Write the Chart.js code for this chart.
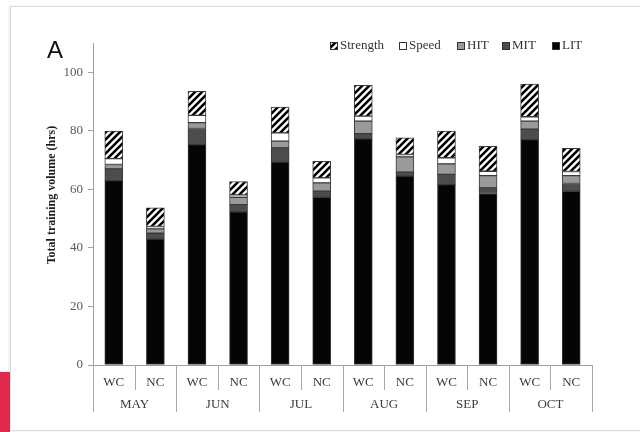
<!DOCTYPE html>
<html>
<head>
<meta charset="utf-8">
<script src="https://cdn.jsdelivr.net/npm/chart.js@4.4.1/dist/chart.umd.min.js"></script>
<style>
  html, body { margin: 0; padding: 0; background: #fff; }
  #wrap { position: relative; width: 640px; height: 432px; overflow: hidden; }
  #frame { position: absolute; left: 10px; top: 6px; width: 640px; height: 423px;
           border: 1px solid #dcdcdc; box-shadow: -1px 0 2px #e6e6e6; }
  #redTab { position: absolute; left: 0; top: 372px; width: 10px; height: 60px; background: #e2284b; }
  canvas { position: absolute; left: 0; top: 0; }
</style>
</head>
<body>
<div id="wrap">
  <div id="frame"></div>
  <div id="redTab"></div>
  <canvas id="chart" width="640" height="432"></canvas>
</div>
<script>
// Datos
const months = ['MAY', 'JUN', 'JUL', 'AUG', 'SEP', 'OCT'];
const groups = ['WC', 'NC'];
const yTicks = [0, 20, 40, 60, 80, 100];

const lit      = [63.0, 43.0, 75.3, 52.3, 69.3, 57.3, 77.3, 64.5, 61.6, 58.6, 77.0, 59.3];
const mit      = [4.0, 2.0, 5.5, 2.5, 4.9, 2.1, 1.7, 1.4, 3.5, 1.9, 3.6, 2.7];
const hit      = [1.5, 1.5, 2.0, 2.5, 2.3, 2.8, 4.3, 5.2, 3.6, 4.2, 2.7, 2.7];
const speed    = [2.0, 0.8, 2.5, 0.8, 2.8, 1.7, 1.7, 0.8, 2.1, 1.5, 1.5, 1.4];
const strength = [9.4, 6.4, 8.2, 4.6, 8.8, 5.7, 10.5, 5.7, 9.1, 8.5, 11.2, 7.9];

const labels = [];
months.forEach(() => groups.forEach(g => labels.push(g)));

const SERIF = '"Liberation Serif", "Times New Roman", serif';

// patrón rayado para Strength
function makeHatch() {
  const s = 7;
  const c = document.createElement('canvas');
  c.width = s; c.height = s;
  const g = c.getContext('2d');
  g.fillStyle = '#fff';
  g.fillRect(0, 0, s, s);
  g.strokeStyle = '#000';
  g.lineWidth = 2.6;
  g.beginPath();
  g.moveTo(-1, s + 1); g.lineTo(s + 1, -1);
  g.moveTo(-s / 2 - 1, s / 2 + 1); g.lineTo(s / 2 + 1, -s / 2 - 1);
  g.moveTo(s / 2 - 1, s * 1.5 + 1); g.lineTo(s * 1.5 + 1, s / 2 - 1);
  g.stroke();
  return g.createPattern(c, 'repeat');
}
const ctx = document.getElementById('chart').getContext('2d');
const hatch = makeHatch();

function ds(label, data, color) {
  return {
    label: label,
    data: data,
    backgroundColor: color,
    borderColor: '#3a3a3a',
    borderWidth: 1,
    borderSkipped: false,
    barThickness: 18
  };
}

const datasets = [
  ds('LIT', lit, '#050505'),
  ds('MIT', mit, '#4d4d4d'),
  ds('HIT', hit, '#9a9a9a'),
  ds('Speed', speed, '#ffffff'),
  ds('Strength', strength, hatch)
];

const extras = {
  id: 'extras',
  afterDraw(chart) {
    const c = chart.ctx;
    const x = chart.scales.x;
    const area = chart.chartArea;
    const n = labels.length;
    const step = (area.right - area.left) / n;
    c.save();

    // separadores del eje x
    c.strokeStyle = '#a8a8a8';
    c.lineWidth = 1;
    for (let i = 0; i <= n; i++) {
      let px;
      if (i === 0) px = area.left;
      else if (i === n) px = area.right;
      else px = (x.getPixelForValue(i - 1) + x.getPixelForValue(i)) / 2;
      px = Math.round(px) + 0.5;
      const end = (i % 2 === 0) ? area.bottom + 47 : area.bottom + 25;
      c.beginPath();
      c.moveTo(px, area.bottom);
      c.lineTo(px, end);
      c.stroke();
    }

    // meses
    c.fillStyle = '#3c3c3c';
    c.font = '13px ' + SERIF;
    c.textAlign = 'center';
    c.textBaseline = 'middle';
    months.forEach((m, i) => {
      const mx = (x.getPixelForValue(2 * i) + x.getPixelForValue(2 * i + 1)) / 2;
      c.fillText(m, mx, area.bottom + 40);
    });

    // título eje y
    c.save();
    c.translate(52, 195);
    c.rotate(-Math.PI / 2);
    c.font = 'bold 12px ' + SERIF;
    c.fillStyle = '#1e1e1e';
    c.fillText('Total training volume (hrs)', 0, 0);
    c.restore();

    // letra del panel
    c.font = '24px "Liberation Sans", Arial, sans-serif';
    c.fillStyle = '#111';
    c.textAlign = 'left';
    c.textBaseline = 'alphabetic';
    c.fillText('A', 47, 58);

    // leyenda
    const items = [
      { ds: 4, x: 330 }, { ds: 3, x: 399 }, { ds: 2, x: 457 },
      { ds: 1, x: 502 }, { ds: 0, x: 552 }
    ];
    c.font = '13px ' + SERIF;
    c.textBaseline = 'middle';
    items.forEach(it => {
      const d = chart.data.datasets[it.ds];
      c.fillStyle = d.backgroundColor;
      c.fillRect(it.x, 42, 7, 7);
      c.strokeStyle = '#333';
      c.strokeRect(it.x + 0.5, 42.5, 7, 7);
      c.fillStyle = '#333';
      c.fillText(d.label, it.x + 10, 46);
    });
    c.restore();
  }
};

new Chart(ctx, {
  type: 'bar',
  data: { labels: labels, datasets: datasets },
  plugins: [extras],
  options: {
    responsive: false,
    animation: false,
    layout: { padding: { left: 0, right: 48, top: 43, bottom: 0 } },
    plugins: {
      legend: { display: false },
      tooltip: { enabled: false }
    },
    scales: {
      x: {
        stacked: true,
        afterFit: (s) => { s.height = 67; },
        grid: { display: false, drawTicks: false },
        border: { display: true, color: '#a0a0a0' },
        ticks: {
          font: { family: SERIF, size: 13 },
          color: '#3c3c3c',
          padding: 10,
          autoSkip: false,
          maxRotation: 0
        }
      },
      y: {
        stacked: true,
        min: 0,
        max: 110,
        afterFit: (s) => { s.width = 93; },
        afterBuildTicks: (s) => {
          s.ticks = yTicks.map(v => ({ value: v }));
        },
        grid: { drawOnChartArea: false, drawTicks: true, tickLength: 5, color: '#a0a0a0' },
        border: { display: true, color: '#a0a0a0' },
        ticks: {
          font: { family: SERIF, size: 13 },
          color: '#5a5a5a',
          padding: 5
        }
      }
    }
  }
});
</script>
</body>
</html>
